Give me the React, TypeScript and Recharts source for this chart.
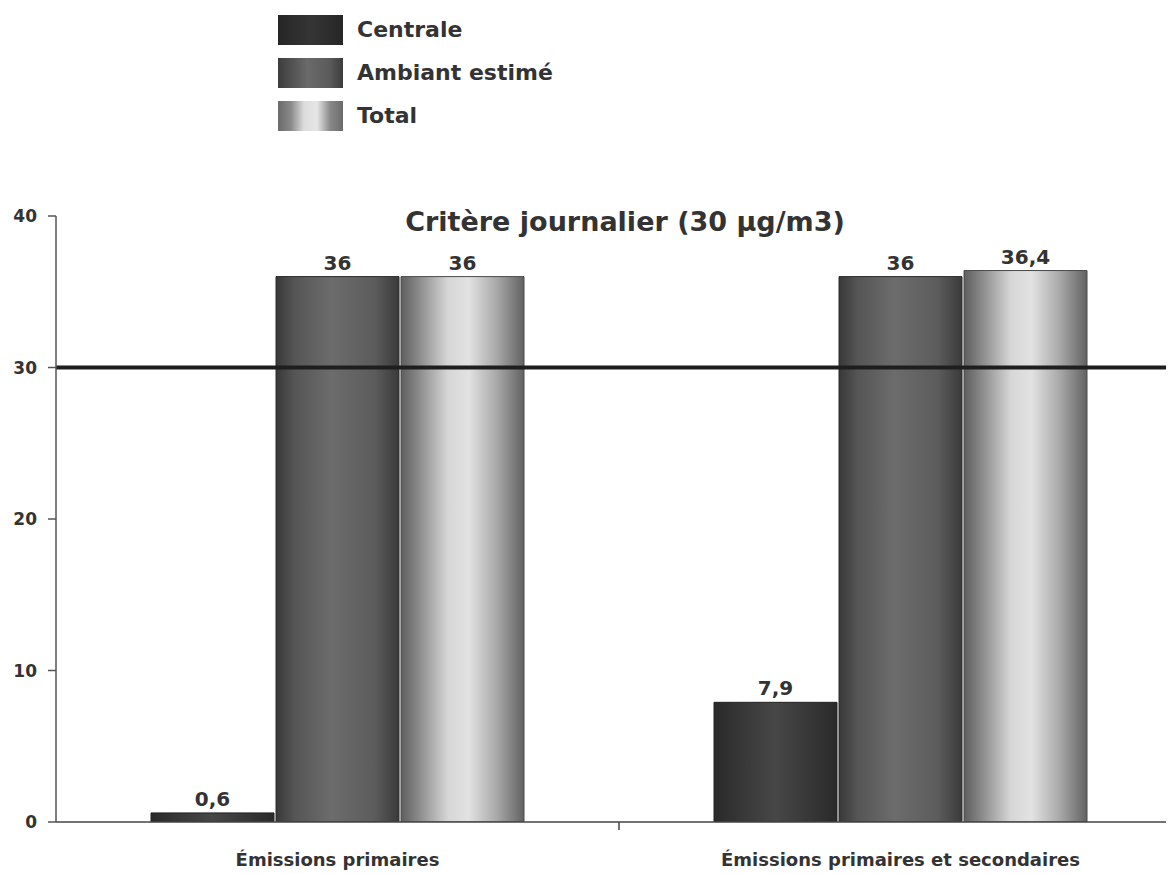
import React from 'react';
import { BarChart, Bar, XAxis, YAxis, ReferenceLine, Legend, LabelList } from 'recharts';

const categories = ['Émissions primaires', 'Émissions primaires et secondaires'];
const centraleValues = [0.6, 7.9];
const ambiantValues = [36, 36];
const totalValues = [36, 36.4];
const seriesNames = ['Centrale', 'Ambiant estimé', 'Total'];
const yTicks = [0, 10, 20, 30, 40];
const critereValue = 30;
const chartTitle = 'Critère journalier (30 µg/m3)';

const data = categories.map((c, i) => ({
  category: c,
  centrale: centraleValues[i],
  ambiant: ambiantValues[i],
  total: totalValues[i],
}));

const FONT = '"DejaVu Sans", Verdana, sans-serif';
const TEXT = '#333333';

const swatchBackgrounds = [
  'linear-gradient(to right, #262626, #353535 50%, #262626)',
  'linear-gradient(to right, #3c3c3c, #6a6a6a 45%, #5a5a5a 80%, #3c3c3c)',
  'linear-gradient(to right, #6a6a6a, #8a8a8a 20%, #dcdcdc 40%, #e6e6e6 60%, #8a8a8a 80%, #6a6a6a)',
];

const renderLegend = () => (
  <div style={{ fontFamily: FONT }}>
    {seriesNames.map((name, i) => (
      <div key={name} style={{ display: 'flex', alignItems: 'center', height: 43 }}>
        <div style={{ width: 65, height: 30, background: swatchBackgrounds[i] }} />
        <span style={{ marginLeft: 14, fontSize: 22, fontWeight: 'bold', color: TEXT, whiteSpace: 'nowrap' }}>{name}</span>
      </div>
    ))}
  </div>
);

const fmt = (v: any) => String(v).replace('.', ',');

const CategoryTick = (props: any) => {
  const { x, y, payload, index, visibleTicksCount } = props;
  const half = payload && payload.offset ? payload.offset : 0;
  const showSep = index < (visibleTicksCount ?? categories.length) - 1;
  return (
    <g>
      {showSep && (
        <line x1={x + half} x2={x + half} y1={y} y2={y + 8} stroke="#444" strokeWidth={1.5} />
      )}
      <text x={x} y={y} dy={44} textAnchor="middle" fontFamily={FONT} fontSize={18} fontWeight="bold" fill={TEXT}>
        {payload.value}
      </text>
    </g>
  );
};

const labelStyle = { fontFamily: FONT, fontSize: 20, fontWeight: 'bold' as const, fill: TEXT };

export default function App() {
  return (
    <div style={{ position: 'relative', width: 1166, height: 866, overflow: 'hidden', background: '#fff' }}>
      <BarChart
        width={1182}
        height={866}
        data={data}
        margin={{ top: 208, right: 8, bottom: 0, left: 0 }}
        barSize={123}
        barGap={2}
      >
        <defs>
          <linearGradient id="gCentrale" x1="0" y1="0" x2="1" y2="0">
            <stop offset="0%" stopColor="#2a2a2a" />
            <stop offset="50%" stopColor="#474747" />
            <stop offset="100%" stopColor="#2a2a2a" />
          </linearGradient>
          <linearGradient id="gAmbiant" x1="0" y1="0" x2="1" y2="0">
            <stop offset="0%" stopColor="#383838" />
            <stop offset="15%" stopColor="#555555" />
            <stop offset="45%" stopColor="#6c6c6c" />
            <stop offset="80%" stopColor="#5c5c5c" />
            <stop offset="100%" stopColor="#3a3a3a" />
          </linearGradient>
          <linearGradient id="gTotal" x1="0" y1="0" x2="1" y2="0">
            <stop offset="0%" stopColor="#5e5e5e" />
            <stop offset="15%" stopColor="#8c8c8c" />
            <stop offset="38%" stopColor="#d6d6d6" />
            <stop offset="55%" stopColor="#e2e2e2" />
            <stop offset="78%" stopColor="#a8a8a8" />
            <stop offset="100%" stopColor="#626262" />
          </linearGradient>
        </defs>
        <XAxis
          dataKey="category"
          height={52}
          tickLine={false}
          tickSize={0}
          tickMargin={0}
          axisLine={{ stroke: '#444', strokeWidth: 1.5 }}
          tick={<CategoryTick />}
          interval={0}
        />
        <YAxis
          width={48}
          domain={[0, 40]}
          ticks={yTicks}
          allowDataOverflow
          tickSize={8}
          tickMargin={11}
          axisLine={{ stroke: '#555', strokeWidth: 1.5 }}
          tickLine={{ stroke: '#555', strokeWidth: 1.5 }}
          tick={{ fontFamily: FONT, fontSize: 17, fontWeight: 'bold', fill: TEXT }}
        />
        <Legend
          layout="vertical"
          verticalAlign="middle"
          align="center"
          content={renderLegend}
          wrapperStyle={{ top: 0, left: 270, width: 300, height: 130 }}
        />
        <Bar dataKey="centrale" name={seriesNames[0]} fill="url(#gCentrale)" stroke="#222" strokeWidth={1} isAnimationActive={false}>
          <LabelList dataKey="centrale" position="top" offset={7} formatter={fmt} style={labelStyle} />
        </Bar>
        <Bar dataKey="ambiant" name={seriesNames[1]} fill="url(#gAmbiant)" stroke="#2a2a2a" strokeWidth={1} isAnimationActive={false}>
          <LabelList dataKey="ambiant" position="top" offset={7} formatter={fmt} style={labelStyle} />
        </Bar>
        <Bar dataKey="total" name={seriesNames[2]} fill="url(#gTotal)" stroke="#4a4a4a" strokeWidth={1} isAnimationActive={false}>
          <LabelList dataKey="total" position="top" offset={7} formatter={fmt} style={labelStyle} />
        </Bar>
        <ReferenceLine y={critereValue} stroke="#1e1e1e" strokeWidth={4} />
      </BarChart>
      <div
        style={{
          position: 'absolute',
          left: 317,
          top: 199,
          width: 600,
          textAlign: 'center',
          lineHeight: '30px',
          fontFamily: FONT,
          fontSize: 27,
          fontWeight: 'bold',
          color: TEXT,
        }}
      >
        {chartTitle}
      </div>
    </div>
  );
}
